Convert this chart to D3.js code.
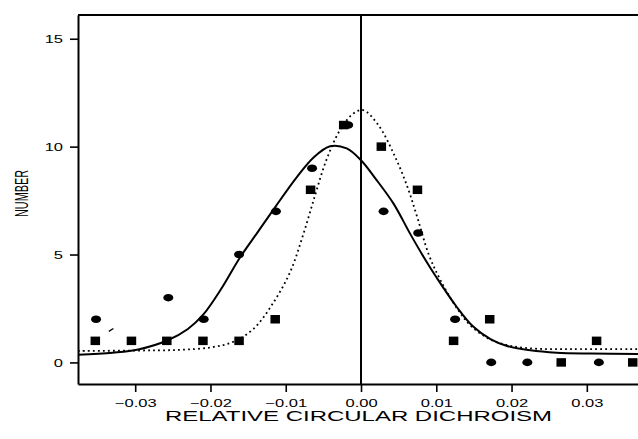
<!DOCTYPE html>
<html>
<head>
<meta charset="utf-8">
<script src="https://cdn.jsdelivr.net/npm/d3@7"></script>
<style>
  body { margin: 0; background: #fff; }
  svg { display: block; font-family: "Liberation Sans", Arial, sans-serif; }
</style>
</head>
<body>
<svg id="chart" width="638" height="439"></svg>
<script>
// values
const xTicks = [-0.03, -0.02, -0.01, 0, 0.01, 0.02, 0.03];
const yTicks = [0, 5, 10, 15];

// filled ellipses
const circleX = [-0.0352, -0.0256, -0.0209, -0.0162, -0.0113, -0.0065, -0.0017, 0.0030, 0.0076, 0.0125, 0.0173, 0.0221, 0.0316];
const circleY = [2, 3, 2, 5, 7, 9, 11, 7, 6, 2, 0, 0, 0];

// filled squares
const squareX = [-0.0353, -0.0305, -0.0258, -0.0210, -0.0162, -0.0114, -0.0067, -0.0023, 0.0027, 0.0075, 0.0123, 0.0171, 0.0266, 0.0313, 0.0361];
const squareY = [1, 1, 1, 1, 1, 2, 8, 11, 10, 8, 1, 2, 0, 1, 0];

// solid fitted curve (traced)
const solidX = [-0.0376, -0.0330, -0.0296, -0.0256, -0.0230, -0.0210, -0.0185, -0.0161, -0.0137, -0.0114, -0.0085, -0.0063, -0.0041, -0.0019, 0.0000, 0.0019, 0.0043, 0.0065, 0.0083, 0.0101, 0.0127, 0.0149, 0.0172, 0.0194, 0.0225, 0.0260, 0.0305, 0.0368];
const solidY = [0.35, 0.45, 0.60, 1.04, 1.55, 2.20, 3.45, 4.85, 6.05, 7.20, 8.60, 9.50, 10.02, 9.92, 9.37, 8.53, 7.37, 5.98, 4.90, 3.90, 2.58, 1.66, 1.08, 0.76, 0.56, 0.45, 0.41, 0.39];

// dotted fitted curve (traced)
const dottedX = [-0.0376, -0.0300, -0.0243, -0.0199, -0.0170, -0.0143, -0.0117, -0.0094, -0.0077, -0.0061, -0.0046, -0.0028, -0.0010, 0.0003, 0.0023, 0.0045, 0.0062, 0.0075, 0.0090, 0.0105, 0.0129, 0.0147, 0.0173, 0.0200, 0.0235, 0.0280, 0.0368];
const dottedY = [0.53, 0.55, 0.58, 0.70, 0.95, 1.55, 2.74, 4.20, 5.90, 7.75, 9.38, 10.76, 11.54, 11.69, 11.00, 9.55, 8.10, 6.70, 5.00, 3.85, 2.43, 1.66, 1.04, 0.76, 0.63, 0.62, 0.62];

// small stray stroke near the left
const strayX = [-0.0335, -0.0329];
const strayY = [1.44, 1.57];

const svg = d3.select("#chart");
const plotLeft = 78, plotRight = 638, plotTop = 15, plotBottom = 384;

const x = d3.scaleLinear().domain([-0.0376, 0.0368]).range([plotLeft, plotRight]);
const y = d3.scaleLinear().domain([-1, 16.1]).range([plotBottom, plotTop]);

// top frame line
svg.append("line")
  .attr("x1", plotLeft).attr("x2", plotRight)
  .attr("y1", plotTop).attr("y2", plotTop)
  .attr("stroke", "#000").attr("stroke-width", 2);

// axes
const xAxis = svg.append("g")
  .attr("transform", `translate(0,${plotBottom})`)
  .call(d3.axisBottom(x).tickValues(xTicks).tickFormat(d3.format(".2f")).tickSize(8).tickSizeOuter(0).tickPadding(6));

const yAxis = svg.append("g")
  .attr("transform", `translate(${plotLeft},0)`)
  .call(d3.axisLeft(y).tickValues(yTicks).tickSize(8).tickSizeOuter(0).tickPadding(7));

[xAxis, yAxis].forEach(g => {
  g.attr("font-size", 11).attr("font-family", "'Liberation Sans', Arial, sans-serif");
  g.select(".domain").attr("stroke", "#000").attr("stroke-width", 2);
  g.selectAll(".tick line").attr("stroke", "#000").attr("stroke-width", 1.6);
  g.selectAll(".tick text").attr("fill", "#000");
});
yAxis.selectAll(".tick text").attr("dy", "0.36em");
xAxis.selectAll(".tick text").attr("y", 15).attr("dy", "0.71em");

// the print is stretched sideways, so widen the tick labels
svg.selectAll(".tick text").each(function() {
  const len = this.getComputedTextLength();
  d3.select(this).attr("textLength", len * 1.5).attr("lengthAdjust", "spacingAndGlyphs");
});

// vertical zero line
svg.append("line")
  .attr("x1", x(0)).attr("x2", x(0))
  .attr("y1", plotTop).attr("y2", plotBottom)
  .attr("stroke", "#000").attr("stroke-width", 2);

// curves
const line = d3.line()
  .x(d => x(d[0]))
  .y(d => y(d[1]))
  .curve(d3.curveCatmullRom.alpha(0.5));

svg.append("path")
  .datum(solidX.map((v, i) => [v, solidY[i]]))
  .attr("d", line)
  .attr("fill", "none")
  .attr("stroke", "#000")
  .attr("stroke-width", 2);

svg.append("path")
  .datum(dottedX.map((v, i) => [v, dottedY[i]]))
  .attr("d", line)
  .attr("fill", "none")
  .attr("stroke", "#000")
  .attr("stroke-width", 1.8)
  .attr("stroke-dasharray", "1.8,3.2");

svg.append("path")
  .datum(strayX.map((v, i) => [v, strayY[i]]))
  .attr("d", d3.line().x(d => x(d[0])).y(d => y(d[1])))
  .attr("stroke", "#000")
  .attr("stroke-width", 1.3);

// markers
svg.selectAll(".sq")
  .data(squareX.map((v, i) => [v, squareY[i]]))
  .enter().append("rect")
  .attr("class", "sq")
  .attr("x", d => x(d[0]) - 4.75)
  .attr("y", d => y(d[1]) - 4.25)
  .attr("width", 9.5)
  .attr("height", 8.5)
  .attr("fill", "#000");

svg.selectAll(".dot")
  .data(circleX.map((v, i) => [v, circleY[i]]))
  .enter().append("ellipse")
  .attr("class", "dot")
  .attr("cx", d => x(d[0]))
  .attr("cy", d => y(d[1]))
  .attr("rx", 5)
  .attr("ry", 3.8)
  .attr("fill", "#000");

// axis titles
svg.append("text")
  .attr("x", 358.5)
  .attr("y", 421)
  .attr("text-anchor", "middle")
  .attr("textLength", 387)
  .attr("lengthAdjust", "spacingAndGlyphs")
  .attr("font-size", 15)
  .text("RELATIVE CIRCULAR DICHROISM");

svg.append("text")
  .attr("transform", "translate(28,193.5) rotate(-90)")
  .attr("text-anchor", "middle")
  .attr("textLength", 47)
  .attr("lengthAdjust", "spacingAndGlyphs")
  .attr("font-size", 18)
  .text("NUMBER");
</script>
</body>
</html>
